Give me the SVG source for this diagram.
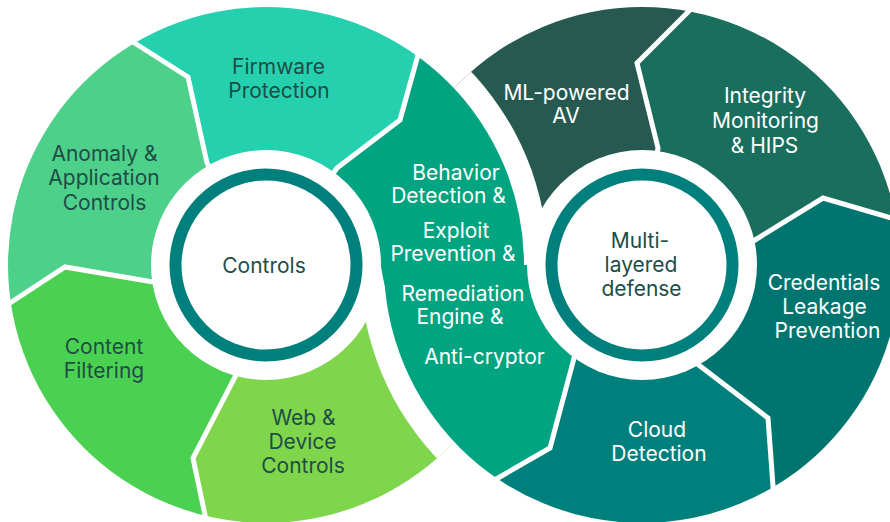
<svg xmlns="http://www.w3.org/2000/svg" width="890" height="522" viewBox="0 0 890 522">
<style>
.t{font-family:Inter,"Noto Sans","Liberation Sans",sans-serif;font-size:21px;text-anchor:middle}
.d{fill:#1E4D45}
.w{fill:#FFFFFF}
.sep{fill:none;stroke:#FFFFFF;stroke-width:5;stroke-linejoin:miter}
.ring{fill:#FFFFFF;stroke:#00807C;stroke-width:12}
</style>
<defs>
<clipPath id="cL"><circle cx="266" cy="265" r="258"/></clipPath>
<clipPath id="cR"><circle cx="642" cy="265" r="258"/></clipPath>
</defs>
<rect width="890" height="522" fill="#FFFFFF"/>
<g id="left-segments" clip-path="url(#cL)">
<g id="anomaly"><path fill="#4DD08A" d="M266,265 L153,282 L65,267 L10,303 L-17,321 L-40,321 L-40,-40 L100,-40 L100,21 L133,42 L188,77 L207,163 Z"/></g>
<g id="firmware"><path fill="#25D0AF" d="M266,265 L207,163 L188,77 L133,42 L100,21 L100,-40 L430,-40 L427,22 L418,55 L400,120 L337,168 Z"/></g>
<g id="content"><path fill="#4BD151" d="M266,265 L235,377 L193,458 L205,515 L211,544 L211,560 L-40,560 L-40,321 L-17,321 L10,303 L65,267 L153,282 Z"/></g>
<g id="web"><path fill="#7FD54B" d="M266,265 L235,377 L193,458 L205,515 L211,544 L211,560 L700,560 L700,265 Z"/></g>
</g>
<g id="gapR" clip-path="url(#cL)"><path fill="#FFFFFF" d="M360,265 A282,282 0 0 0 924,265 Z"/></g>
<g id="right-segments" clip-path="url(#cR)">
<g id="ml"><path fill="#265A51" d="M642,265 L658,148 L637,63 L690,10 L717,-17 L717,-40 L300,-40 L300,265 Z"/></g>
<g id="integrity"><path fill="#1A6E5D" d="M642,265 L658,148 L637,63 L690,10 L717,-17 L717,-40 L950,-40 L950,229 L930,229 L895,219 L823,198 L755,240 Z"/></g>
<g id="credentials"><path fill="#007570" d="M642,265 L755,240 L823,198 L895,219 L930,229 L950,229 L950,560 L776,560 L776,530 L773,486 L768,418 L700,366 Z"/></g>
<g id="cloud"><path fill="#00807C" d="M642,265 L700,366 L768,418 L773,486 L776,530 L776,560 L460,560 L470,494 L498,478 L550,448 L573,362 Z"/></g>
</g>
<g id="gapL" clip-path="url(#cR)"><path fill="#FFFFFF" d="M-16,265 A282,282 0 0 1 548,265 Z"/></g>
<g id="behavior">
<path fill="#00A480" clip-path="url(#cL)" d="M266,265 L337,168 L400,120 L418,55 L427,22 L430,-40 L700,-40 L700,265 Z"/>
<path fill="#00A480" clip-path="url(#cR)" d="M642,265 L573,362 L550,448 L498,478 L470,494 L460,560 L300,560 L300,265 Z"/>
<path fill="#00A480" d="M380.5,262 L400,262 L400,288 L385.3,288 Q382,274 380.8,265 Z"/>
</g>
<g id="connectors">
<polyline class="sep" points="215,178 207,163 188,77 133,42 100,21"/>
<polyline class="sep" points="330,178 337,168 400,120 418,55 427,22"/>
<polyline class="sep" points="165,280 153,282 65,267 10,303 -17,321"/>
<polyline class="sep" points="240,365 235,377 193,458 205,515 211,544"/>
<polyline class="sep" points="656,160 658,148 637,63 690,10 717,-17"/>
<polyline class="sep" points="745,246 755,240 823,198 895,219 930,229"/>
<polyline class="sep" points="690,358 700,366 768,418 773,486 776,530"/>
<polyline class="sep" points="576,350 573,362 550,448 498,478 470,494"/>
</g>
<g id="hub-left">
<circle cx="266" cy="265" r="115" fill="#FFFFFF"/>
<circle class="ring" cx="266" cy="265" r="90.5"/>
<text class="t d" x="264" y="272.5">Controls</text>
</g>
<g id="hub-right">
<circle cx="642" cy="265" r="115" fill="#FFFFFF"/>
<circle class="ring" cx="642" cy="265" r="90.5"/>
<text class="t d" x="640" y="248">Multi-</text>
<text class="t d" x="641" y="272">layered</text>
<text class="t d" x="641.5" y="296">defense</text>
</g>
<g id="labels">
<text class="t d" x="278.5" y="74">Firmware</text>
<text class="t d" x="279" y="98">Protection</text>
<text class="t d" x="104.5" y="160.5">Anomaly &amp;</text>
<text class="t d" x="104" y="185">Application</text>
<text class="t d" x="104.5" y="209.5">Controls</text>
<text class="t d" x="104" y="354">Content</text>
<text class="t d" x="104" y="378">Filtering</text>
<text class="t d" x="303.5" y="425">Web &amp;</text>
<text class="t d" x="302.5" y="449">Device</text>
<text class="t d" x="303" y="473">Controls</text>
<text class="t w" x="456" y="180">Behavior</text>
<text class="t w" x="448.5" y="203">Detection &amp;</text>
<text class="t w" x="456" y="238">Exploit</text>
<text class="t w" x="453" y="261">Prevention &amp;</text>
<text class="t w" x="463" y="301">Remediation</text>
<text class="t w" x="460" y="324">Engine &amp;</text>
<text class="t w" x="484.5" y="364">Anti-cryptor</text>
<text class="t w" x="566.5" y="100">ML-powered</text>
<text class="t w" x="566" y="123">AV</text>
<text class="t w" x="765" y="103">Integrity</text>
<text class="t w" x="765.5" y="128">Monitoring</text>
<text class="t w" x="764.5" y="153">&amp; HIPS</text>
<text class="t w" x="824" y="290">Credentials</text>
<text class="t w" x="824.5" y="314">Leakage</text>
<text class="t w" x="827.5" y="338">Prevention</text>
<text class="t w" x="657" y="437">Cloud</text>
<text class="t w" x="659" y="461">Detection</text>
</g>
</svg>
